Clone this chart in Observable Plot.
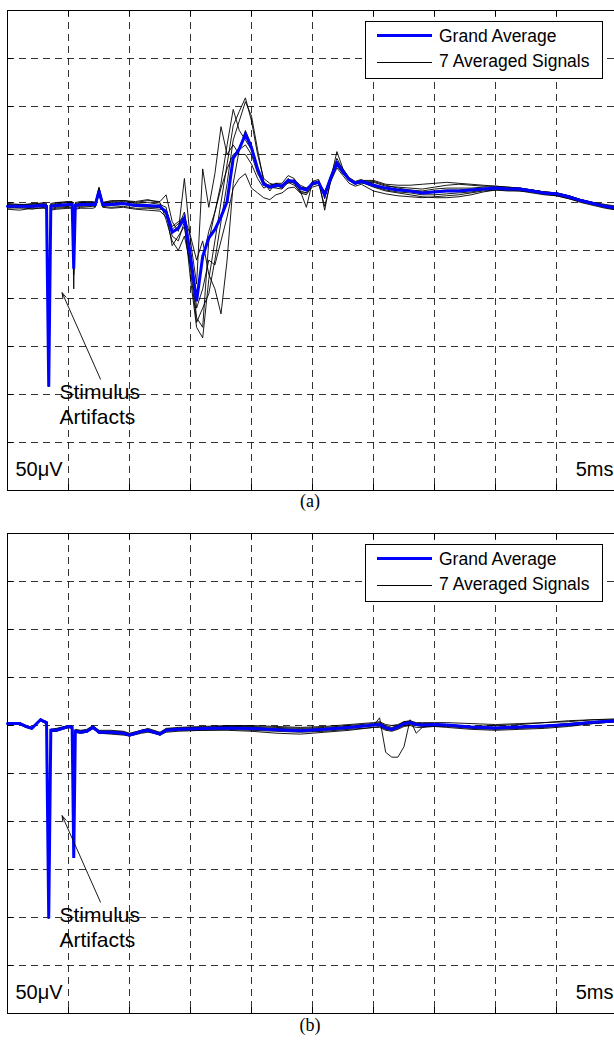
<!DOCTYPE html>
<html>
<head>
<meta charset="utf-8">
<script src="https://cdn.jsdelivr.net/npm/d3@7"></script>
<script src="https://cdn.jsdelivr.net/npm/@observablehq/plot@0.6"></script>
<style>
  html, body { margin: 0; padding: 0; background: #fff; }
  body { width: 614px; height: 1045px; overflow: hidden; position: relative; font-family: "Liberation Sans", Arial, sans-serif; }
  .panel { position: absolute; left: 0; }
  .legend { position: absolute; left: 365px; width: 236px; height: 56px; border: 1px solid #000; background: #fff; }
  .legend .sw { position: absolute; left: 11px; width: 55px; }
  .legend .lt { position: absolute; left: 73px; font-size: 17.5px; line-height: 1; white-space: nowrap; color: #000; }
  .caption { position: absolute; left: 0; width: 620px; text-align: center; font-family: "Liberation Serif", "Times New Roman", serif; font-size: 18px; line-height: 1; color: #000; }
</style>
</head>
<body>
<div id="panelA" class="panel" style="top:0px"></div>
<div class="legend" style="top:21px">
  <div class="sw" style="top:11.5px;height:3px;background:#0000ff"></div>
  <div class="lt" style="top:6px">Grand Average</div>
  <div class="sw" style="top:40.2px;height:1px;background:#000"></div>
  <div class="lt" style="top:31.2px">7 Averaged Signals</div>
</div>
<div class="caption" style="top:492px">(a)</div>
<div id="panelB" class="panel" style="top:523px"></div>
<div class="legend" style="top:544px">
  <div class="sw" style="top:11.5px;height:3px;background:#0000ff"></div>
  <div class="lt" style="top:6px">Grand Average</div>
  <div class="sw" style="top:40.2px;height:1px;background:#000"></div>
  <div class="lt" style="top:31.2px">7 Averaged Signals</div>
</div>
<div class="caption" style="top:1016px">(b)</div>
<script>
// ---------- Data (time in ms, amplitude in µV) ----------
const timeA = [0, 0.1, 0.2, 0.3, 0.32, 0.338, 0.355, 0.4, 0.5, 0.53, 0.543, 0.556, 0.6, 0.7, 0.72, 0.75, 0.78, 0.85, 0.95, 1.05, 1.15, 1.25,
  1.3, 1.35, 1.4, 1.45, 1.5, 1.55, 1.6, 1.65, 1.7, 1.75, 1.8, 1.85, 1.9, 1.95, 2.0, 2.05, 2.1, 2.15, 2.2, 2.25, 2.3, 2.35, 2.4, 2.45, 2.5, 2.55, 2.6, 2.65, 2.7, 2.75, 2.8, 2.85, 2.9,
  3.0, 3.1, 3.2, 3.3, 3.4, 3.5, 3.6, 3.7, 3.8, 3.9, 4.0, 4.1, 4.2, 4.3, 4.4, 4.5, 4.6, 4.7, 4.8, 4.9, 5.0];

const grandA = [-0.4, -0.4, -0.4, -0.3, -0.4, -19.2, -0.4, -0.3, -0.2, -0.2, -6.9, -0.3, -0.2, -0.2, -0.2, 1.2, -0.2, -0.2, -0.1, -0.3, -0.3, -0.4,
  -1.0, -3.1, -2.7, -1.6, -5.6, -10.3, -5.6, -3.7, -2.8, -1.5, 0.1, 4.6, 5.6, 7.1, 5.7, 3.5, 1.9, 1.6, 1.8, 1.7, 2.3, 2.2, 1.5, 1.3, 2.0, 2.1, 0.8, 2.6, 4.1, 3.2, 2.4, 2.0, 2.2,
  1.8, 1.5, 1.3, 1.2, 1.0, 1.1, 1.2, 1.2, 1.3, 1.4, 1.5, 1.4, 1.4, 1.2, 1.0, 0.9, 0.6, 0.2, -0.1, -0.4, -0.6];

const sigA1 = [-0.2, -0.3, -0.1, -0.2, -0.3, -19.0, -0.2, -0.1, 0.0, -0.1, -9.0, -0.2, -0.1, -0.1, -0.2, 0.8, -0.1, 0.0, 0.1, -0.1, 0.0, -0.2,
  -0.5, -3.5, -4.0, -2.0, -8.0, -13.0, -14.1, -8.0, -4.0, 0.0, 4.0, 8.0, 9.5, 10.9, 8.5, 5.0, 2.5, 2.0, 1.8, 1.5, 2.5, 2.0, 1.0, 0.8, 1.8, 2.3, -0.8, 2.5, 5.3, 3.5, 2.5, 2.0, 2.0,
  2.1, 1.7, 1.6, 1.5, 1.4, 1.6, 1.8, 1.9, 1.8, 1.7, 1.7, 1.6, 1.5, 1.3, 1.1, 1.0, 0.7, 0.3, 0.0, -0.3, -0.5];
const sigA2 = [-0.5, -0.6, -0.5, -0.4, -0.5, -18.8, -0.6, -0.5, -0.4, -0.3, -7.5, -0.4, -0.4, -0.3, -0.3, 1.4, -0.3, -0.3, -0.2, -0.4, -0.5, -0.5,
  -1.0, -4.5, -3.5, -2.5, -7.0, -12.5, -11.0, -9.5, -6.0, -2.0, 2.0, 6.5, 8.5, 10.5, 9.0, 5.5, 2.2, 1.2, 2.0, 2.0, 2.8, 2.5, 1.2, -0.5, 2.2, 2.0, -0.4, 2.2, 4.3, 3.5, 2.6, 2.2, 2.4,
  1.7, 1.3, 1.1, 1.0, 0.8, 0.8, 0.9, 1.0, 1.1, 1.3, 1.4, 1.3, 1.3, 1.1, 0.9, 0.8, 0.5, 0.1, -0.2, -0.5, -0.7];
const sigA3 = [-0.3, -0.2, -0.3, -0.1, -0.2, -19.1, -0.3, -0.2, 0.1, 0.0, -6.5, -0.1, 0.0, 0.0, -0.1, 1.5, 0.0, 0.1, 0.2, 0.0, 0.2, 0.1,
  0.8, -2.0, -3.0, 2.5, -4.0, -8.5, 3.5, -0.5, 3.0, 7.9, 5.0, 6.0, 5.0, 5.0, 4.0, 2.5, 1.5, 1.8, 2.0, 1.8, 2.0, 2.4, 1.8, 1.5, 2.0, 2.2, 1.0, 2.8, 4.0, 3.0, 2.3, 2.0, 2.3,
  2.3, 1.9, 1.8, 1.8, 1.9, 2.0, 2.1, 2.0, 1.9, 1.8, 1.7, 1.6, 1.5, 1.3, 1.1, 1.0, 0.7, 0.3, 0.0, -0.2, -0.4];
const sigA4 = [-0.6, -0.5, -0.7, -0.5, -0.6, -18.6, -0.7, -0.6, -0.5, -0.5, -6.0, -0.6, -0.5, -0.4, -0.4, 1.0, -0.4, -0.5, -0.4, -0.6, -0.6, -0.7,
  -0.8, -2.5, -2.0, -1.5, -3.5, -6.0, -4.0, -7.5, -9.0, -11.6, -6.0, 2.0, 5.5, 7.5, 6.0, 3.5, 1.8, 1.5, 1.6, 1.8, 2.2, 2.0, 1.6, 1.5, 1.8, 2.0, 1.2, 2.4, 3.8, 3.0, 2.3, 1.9, 2.1,
  1.6, 1.2, 1.0, 0.8, 0.6, 0.5, 0.5, 0.6, 0.8, 1.1, 1.3, 1.3, 1.2, 1.1, 0.9, 0.7, 0.4, 0.0, -0.3, -0.6, -0.8];
const sigA5 = [-0.4, -0.4, -0.3, -0.3, -0.4, -19.2, -0.4, -0.4, -0.3, -0.2, -7.0, -0.3, -0.3, -0.2, -0.2, 1.1, -0.2, -0.2, -0.1, -0.3, -0.4, -0.5,
  -1.2, -3.0, -2.5, -1.0, -5.0, -11.0, -9.0, -6.0, -6.5, -4.0, -1.5, 1.5, 2.5, 3.0, 1.5, 1.0, 0.5, 0.3, 0.8, 1.0, 1.5, 1.6, 1.0, 1.0, 1.6, 1.8, 0.8, 2.2, 3.6, 2.8, 2.0, 1.7, 1.9,
  1.2, 0.9, 0.7, 0.6, 0.5, 0.6, 0.7, 0.8, 1.0, 1.2, 1.3, 1.2, 1.2, 1.0, 0.8, 0.7, 0.4, 0.1, -0.2, -0.5, -0.8];
const sigA6 = [-0.7, -0.8, -0.6, -0.6, -0.7, -18.9, -0.8, -0.7, -0.6, -0.6, -6.8, -0.7, -0.6, -0.6, -0.5, 0.9, -0.5, -0.6, -0.5, -0.7, -0.8, -0.9,
  -1.5, -2.8, -2.2, -1.8, -6.0, -12.0, -13.0, -4.0, -1.0, 1.5, 3.5, 5.0, 5.5, 6.0, 5.0, 3.0, 2.0, 1.8, 1.9, 1.7, 2.3, 2.2, 1.6, 1.4, 2.1, 2.1, 0.9, 2.6, 4.2, 3.3, 2.5, 2.1, 2.3,
  1.9, 1.5, 1.3, 1.2, 1.1, 1.2, 1.3, 1.3, 1.4, 1.4, 1.5, 1.5, 1.4, 1.3, 1.1, 0.9, 0.6, 0.2, -0.1, -0.4, -0.6];
const sigA7 = [-0.1, -0.2, -0.2, 0.0, -0.1, -19.0, -0.1, 0.0, 0.1, 0.1, -5.5, 0.0, 0.1, 0.1, 0.0, 1.6, 0.0, 0.2, 0.2, 0.1, 0.3, 0.0,
  -1.8, -4.0, -5.0, -3.5, -6.5, -9.5, -6.0, -3.0, -1.0, 2.0, 6.0, 9.7, 7.5, 6.5, 5.5, 3.5, 2.2, 1.6, 1.5, 1.4, 2.1, 1.8, 1.2, 1.0, 2.2, 2.4, 0.4, 2.8, 4.6, 3.4, 2.4, 2.0, 2.2,
  2.2, 1.8, 1.5, 1.3, 1.2, 1.4, 1.5, 1.5, 1.5, 1.6, 1.6, 1.5, 1.5, 1.3, 1.1, 1.0, 0.7, 0.3, 0.0, -0.3, -0.6];

const timeB = [0, 0.1, 0.15, 0.2, 0.27, 0.3, 0.32, 0.338, 0.355, 0.4, 0.5, 0.53, 0.543, 0.556, 0.6, 0.65, 0.7, 0.75, 0.85, 0.95, 1.0, 1.1, 1.15, 1.2, 1.25, 1.3, 1.4, 1.6, 1.8, 2.0, 2.2, 2.4, 2.6, 2.8,
  3.0, 3.05, 3.1, 3.15, 3.2, 3.25, 3.3, 3.35, 3.4, 3.5, 3.6, 3.8, 4.0, 4.2, 4.4, 4.6, 4.8, 5.0];

const grandB = [0.2, 0.2, -0.1, -0.3, 0.6, 0.4, 0.3, -20.1, -0.5, -0.5, -0.1, -0.2, -13.8, -0.6, -0.7, -0.6, -0.2, -0.7, -0.7, -0.8, -1.0, -0.6, -0.5, -0.7, -0.9, -0.5, -0.4, -0.3, -0.25, -0.3, -0.45, -0.55, -0.4, -0.2,
  0.05, 0.1, -0.25, -0.4, -0.15, 0.2, 0.3, 0.1, 0.05, 0.1, 0.05, -0.15, -0.25, -0.15, -0.05, 0.1, 0.35, 0.5];

const sigB1 = [0.3, 0.3, 0.0, -0.2, 0.7, 0.5, 0.4, -19.8, -0.4, -0.4, 0.0, -0.1, -13.6, -0.5, -0.6, -0.5, -0.1, -0.6, -0.6, -0.7, -0.9, -0.5, -0.4, -0.6, -0.8, -0.4, -0.3, -0.2, -0.1, -0.2, -0.3, -0.4, -0.3, -0.1,
  0.0, 0.8, -2.8, -3.3, -3.3, -2.2, 0.6, -0.8, -0.2, 0.1, 0.1, -0.1, -0.2, -0.1, 0.0, 0.2, 0.4, 0.6];
const sigB2 = [0.1, 0.1, -0.2, -0.4, 0.5, 0.3, 0.2, -20.0, -0.6, -0.6, -0.2, -0.3, -13.7, -0.7, -0.8, -0.7, -0.3, -0.8, -0.8, -0.9, -1.1, -0.7, -0.6, -0.8, -1.0, -0.6, -0.5, -0.5, -0.5, -0.6, -0.8, -0.9, -0.7, -0.5,
  -0.2, -0.1, -0.4, -0.5, -0.3, 0.0, 0.1, 0.0, -0.1, -0.1, -0.2, -0.4, -0.5, -0.4, -0.3, -0.1, 0.2, 0.4];
const sigB3 = [0.3, 0.2, 0.0, -0.2, 0.7, 0.5, 0.4, -19.9, -0.4, -0.3, 0.0, -0.1, -13.5, -0.4, -0.5, -0.4, 0.0, -0.5, -0.5, -0.6, -0.8, -0.5, -0.3, -0.5, -0.7, -0.3, -0.2, -0.1, 0.0, 0.0, -0.1, -0.2, -0.1, 0.1,
  0.3, 0.4, 0.1, 0.0, 0.1, 0.4, 0.5, 0.3, 0.3, 0.3, 0.3, 0.2, 0.1, 0.2, 0.3, 0.4, 0.6, 0.7];
const sigB4 = [0.2, 0.2, -0.1, -0.3, 0.6, 0.4, 0.3, -20.1, -0.6, -0.6, -0.2, -0.2, -13.8, -0.7, -0.8, -0.7, -0.3, -0.8, -0.9, -1.0, -1.1, -0.8, -0.7, -0.8, -1.0, -0.7, -0.6, -0.5, -0.4, -0.5, -0.6, -0.7, -0.6, -0.4,
  -0.2, -0.2, -0.5, -0.6, -0.4, -0.1, 0.0, -0.2, -0.2, -0.1, -0.1, -0.3, -0.4, -0.3, -0.2, 0.0, 0.2, 0.4];
const sigB5 = [0.2, 0.3, 0.0, -0.2, 0.6, 0.4, 0.3, -20.0, -0.5, -0.4, -0.1, -0.2, -13.7, -0.6, -0.6, -0.5, -0.1, -0.6, -0.7, -0.7, -0.9, -0.6, -0.4, -0.6, -0.8, -0.4, -0.3, -0.2, -0.2, -0.2, -0.4, -0.5, -0.4, -0.2,
  0.1, 0.2, -0.1, -0.3, -0.1, 0.3, 0.4, 0.2, 0.1, 0.2, 0.1, -0.1, -0.2, -0.1, 0.0, 0.2, 0.4, 0.5];
const sigB6 = [0.1, 0.2, -0.2, -0.3, 0.5, 0.3, 0.2, -20.1, -0.6, -0.5, -0.2, -0.3, -13.8, -0.7, -0.7, -0.7, -0.3, -0.8, -0.8, -0.9, -1.0, -0.7, -0.6, -0.7, -0.9, -0.5, -0.4, -0.4, -0.3, -0.4, -0.5, -0.6, -0.5, -0.3,
  0.0, 0.0, -0.3, -0.4, -0.2, 0.1, 0.2, 0.0, 0.0, 0.0, 0.0, -0.2, -0.3, -0.2, -0.1, 0.1, 0.3, 0.5];
const sigB7 = [0.3, 0.3, 0.0, -0.2, 0.7, 0.5, 0.4, -20.0, -0.4, -0.4, 0.0, -0.1, -13.6, -0.5, -0.6, -0.5, -0.1, -0.6, -0.6, -0.7, -0.9, -0.5, -0.4, -0.6, -0.8, -0.4, -0.3, -0.2, -0.1, -0.1, -0.2, -0.3, -0.2, 0.0,
  0.2, 0.3, 0.0, -0.2, 0.0, 0.4, 0.4, 0.2, 0.2, 0.2, 0.0, -0.1, 0.0, 0.1, 0.3, 0.5, 0.6, 0.6];

// grid positions (ms and µV), scale labels and annotation text
const gridTimes = [0.5, 1.0, 1.5, 2.0, 2.5, 3.0, 3.5, 4.0, 4.5];
const gridVolts = [-25, -20, -15, -10, -5, 0, 5, 10, 15];
const voltLabel = ["50\u03bcV"];
const timeLabel = ["5ms"];
const stimLabel = ["Stimulus\nArtifacts"];
const stimLabelAt = {t: 0.426, v: -23.1};
const stimArrow = [{t1: 0.762, v1: -18.4, t2: 0.448, v2: -9.4}];

// ---------- Drawing ----------
const PX_PER_MS = 122, MARGIN_L = 7, W = 614;
const Y_DOMAIN = [-30, 20];

function tidy(times, series) {
  series.forEach((s, i) => { if (s.length !== times.length) throw new Error("length mismatch in series " + i + ": " + s.length + " vs " + times.length); });
  return series.flatMap((vals, i) => vals.map((v, j) => ({t: times[j], v, s: i})));
}

function panel(times, grand, sigs) {
  const blacks = tidy(times, sigs);
  const blue = tidy(times, [grand]);
  const tickV = 6 / 9.6, tickT = 6 / PX_PER_MS;
  const grid = {stroke: "#111", strokeOpacity: 0.85, strokeWidth: 1, strokeDasharray: "7,5"};
  return Plot.plot({
    width: W, height: 500,
    marginTop: 10, marginBottom: 10, marginLeft: MARGIN_L, marginRight: 0,
    x: {domain: [0, (W - MARGIN_L) / PX_PER_MS], axis: null},
    y: {domain: Y_DOMAIN, axis: null},
    style: {fontFamily: "'Liberation Sans', Arial, sans-serif", background: "transparent", overflow: "visible"},
    marks: [
      Plot.ruleX(gridTimes, grid),
      Plot.ruleY(gridVolts, grid),
      Plot.ruleX(gridTimes, {x: d => d, y1: Y_DOMAIN[0], y2: Y_DOMAIN[0] + tickV, stroke: "#000"}),
      Plot.ruleX(gridTimes, {x: d => d, y1: Y_DOMAIN[1], y2: Y_DOMAIN[1] - tickV, stroke: "#000"}),
      Plot.ruleY(gridVolts, {y: d => d, x1: 0, x2: tickT, stroke: "#000"}),
      Plot.line(blacks, {x: "t", y: "v", z: "s", stroke: "#000", strokeWidth: 0.9, strokeLinejoin: "miter", strokeMiterlimit: 4}),
      Plot.line(blue, {x: "t", y: "v", stroke: "#0000ff", strokeWidth: 3, strokeLinejoin: "miter", strokeMiterlimit: 3}),
      Plot.ruleY([Y_DOMAIN[1]], {stroke: "#000", strokeWidth: 1}),
      Plot.ruleY([Y_DOMAIN[0]], {stroke: "#000", strokeWidth: 1}),
      Plot.ruleX([0], {stroke: "#000", strokeWidth: 1}),
      Plot.arrow(stimArrow, {x1: "t1", y1: "v1", x2: "t2", y2: "v2", stroke: "#000", strokeWidth: 0.9, headLength: 10, headAngle: 35}),
      Plot.text(stimLabel, {x: () => stimLabelAt.t, y: () => stimLabelAt.v, text: d => d, textAnchor: "start", lineAnchor: "bottom", lineHeight: 25 / 21, fontSize: 21, fill: "#000"}),
      Plot.text(voltLabel, {text: d => d, frameAnchor: "bottom-left", dx: 8, dy: -15, textAnchor: "start", lineAnchor: "bottom", fontSize: 20, fill: "#000"}),
      Plot.text(timeLabel, {text: d => d, frameAnchor: "bottom-right", dx: -1, dy: -15, textAnchor: "end", lineAnchor: "bottom", fontSize: 20, fill: "#000"})
    ]
  });
}

document.getElementById("panelA").appendChild(panel(timeA, grandA, [sigA1, sigA2, sigA3, sigA4, sigA5, sigA6, sigA7]));
document.getElementById("panelB").appendChild(panel(timeB, grandB, [sigB1, sigB2, sigB3, sigB4, sigB5, sigB6, sigB7]));
</script>
</body>
</html>
